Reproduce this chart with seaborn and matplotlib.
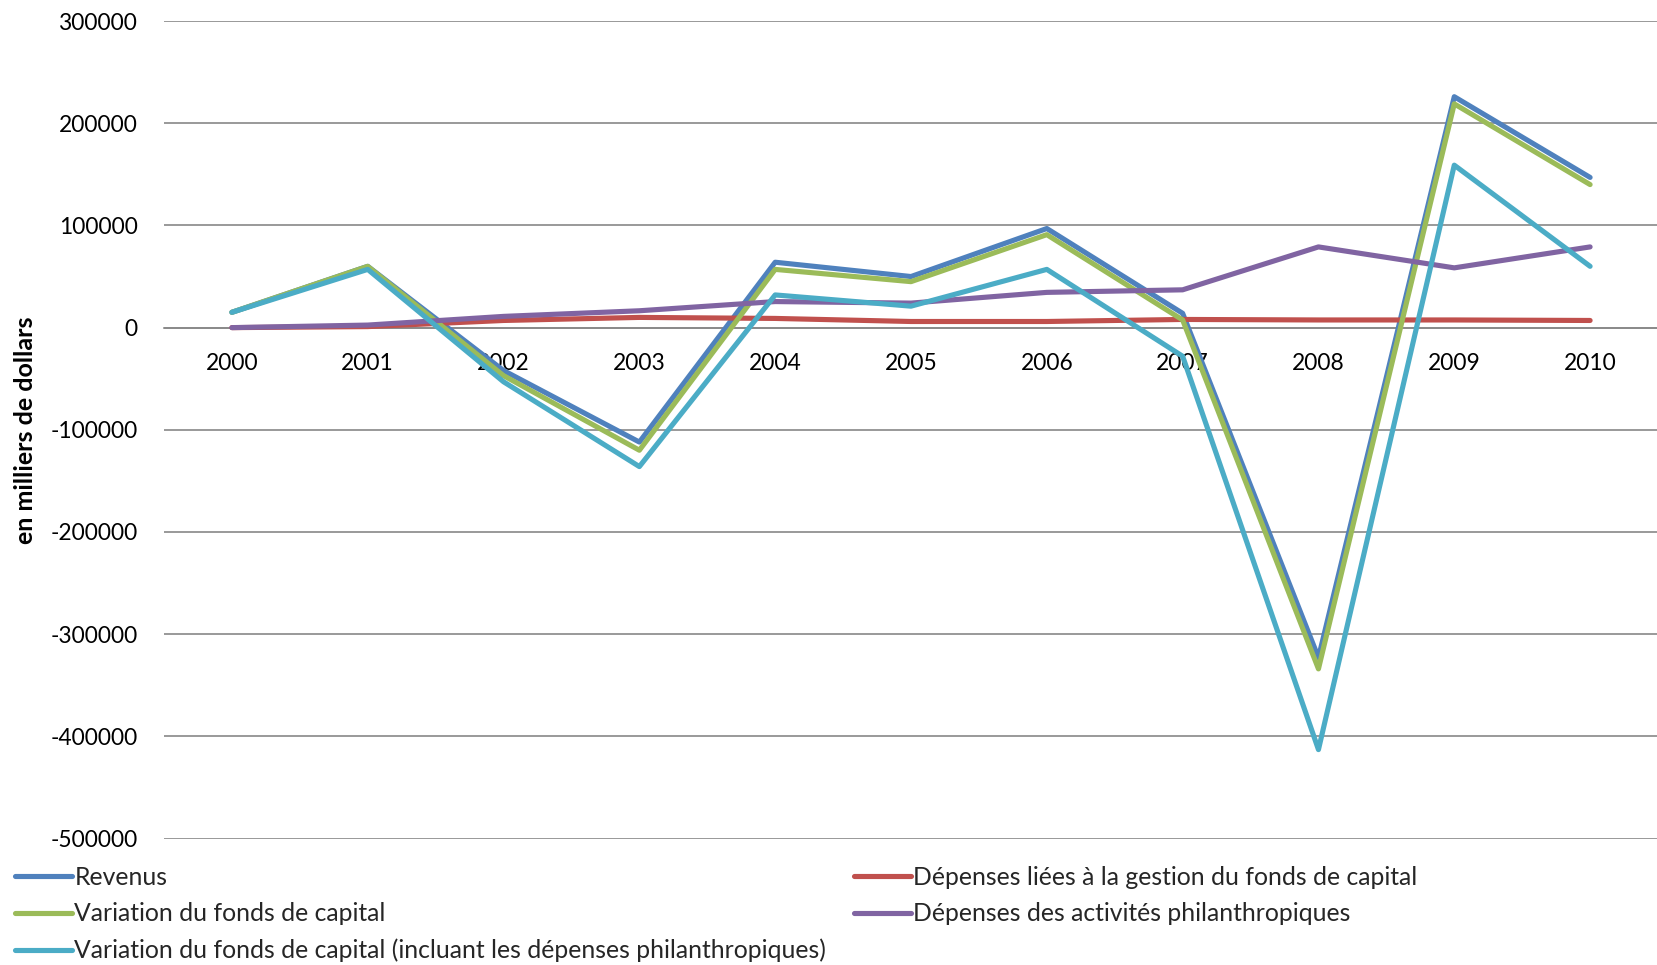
import matplotlib
matplotlib.use("Agg")
import matplotlib.pyplot as plt
import seaborn as sns
import pandas as pd

# Fondation: évolution annuelle des revenus et dépenses (en milliers de dollars)
years = ["2000", "2001", "2002", "2003", "2004", "2005",
         "2006", "2007", "2008", "2009", "2010"]

revenus = [15000, 60000, -42000, -112000, 64000, 50000,
           97000, 14000, -323000, 226000, 147000]
depenses_gestion = [0, 1000, 7000, 10000, 9000, 6000,
                    6000, 8000, 7500, 7500, 7000]
variation_fonds = [15000, 60000, -47000, -120000, 57000, 45000,
                   91000, 7500, -334000, 219000, 140000]
depenses_philanthropiques = [0, 2500, 11000, 16500, 25500, 24000,
                             34500, 37000, 79000, 58500, 79000]
variation_incluant = [15000, 57000, -53000, -136000, 32000, 21000,
                      57000, -28000, -413000, 159000, 60000]

series_names = [
    "Revenus",
    "Dépenses liées à la gestion du fonds de capital",
    "Variation du fonds de capital",
    "Dépenses des activités philanthropiques",
    "Variation du fonds de capital (incluant les dépenses philanthropiques)",
]
series_values = [revenus, depenses_gestion, variation_fonds,
                 depenses_philanthropiques, variation_incluant]
colors = ["#4F81BD", "#C0504D", "#9BBB59", "#8064A2", "#4BACC6"]

y_ticks = [300000, 200000, 100000, 0, -100000, -200000, -300000, -400000, -500000]

df = pd.DataFrame(
    [(y, name, v) for name, vals in zip(series_names, series_values)
     for y, v in zip(years, vals)],
    columns=["Année", "Série", "Valeur"],
)

sns.set_theme(style="white")
plt.rcParams["font.family"] = ["Lato", "DejaVu Sans"]

fig = plt.figure(figsize=(16.58, 9.65), dpi=100)
ax = fig.add_axes([164 / 1658, 1 - 838.5 / 965, 1 - 164 / 1658, (838.5 - 21.1) / 965])

sns.lineplot(
    data=df, x="Année", y="Valeur", hue="Série",
    hue_order=series_names, palette=colors, sort=False,
    linewidth=3.7, solid_capstyle="round", solid_joinstyle="round",
    ax=ax,
)

handles, labels = ax.get_legend_handles_labels()
ax.get_legend().remove()

ax.set_xlim(-0.5, len(years) - 0.5)
ax.set_ylim(-500000, 300000)
ax.set_yticks(y_ticks)
ax.set_yticklabels([str(t) for t in y_ticks])
ax.set_xticks(range(len(years)))
ax.set_xticklabels(years)

# horizontal gridlines only, category labels ride on the zero line
ax.grid(axis="y", color="#888888", linewidth=1.2)
ax.grid(axis="x", visible=False)
ax.set_axisbelow(True)
for side in ["top", "right", "left"]:
    ax.spines[side].set_visible(False)
ax.spines["bottom"].set_position(("data", 0))
ax.spines["bottom"].set_color("#888888")
ax.spines["bottom"].set_linewidth(1.2)
ax.spines["bottom"].set_zorder(0.5)

ax.tick_params(axis="y", length=0, pad=19, labelsize=16.4, labelcolor="black")
ax.tick_params(axis="x", length=0, pad=18, labelsize=16.4, labelcolor="black")

ax.set_xlabel("")
ax.set_ylabel("en milliers de dollars", fontsize=18, fontweight="bold",
              color="black")
ax.yaxis.set_label_coords(-(164 - 37) / (1658 - 164), (838.5 - 430) / (838.5 - 21.1))

# legend: two columns placed along the bottom edge
h = dict(zip(labels, handles))
left_col = [series_names[0], series_names[2], series_names[4]]
right_col = [series_names[1], series_names[3]]
common = dict(loc="upper left", frameon=False, fontsize=17.8, borderpad=0,
              borderaxespad=0, handlelength=2.3, handletextpad=0.1,
              labelspacing=0.54)
for names, x0 in [(left_col, 15), (right_col, 854)]:
    leg = fig.legend([h[n] for n in names], names,
                     bbox_to_anchor=(x0 / 1658, 1 - 866 / 965), **common)
    for line in leg.get_lines():
        line.set_linewidth(3.7)
        line.set_solid_capstyle("round")

fig.savefig("out.png", dpi=100)
